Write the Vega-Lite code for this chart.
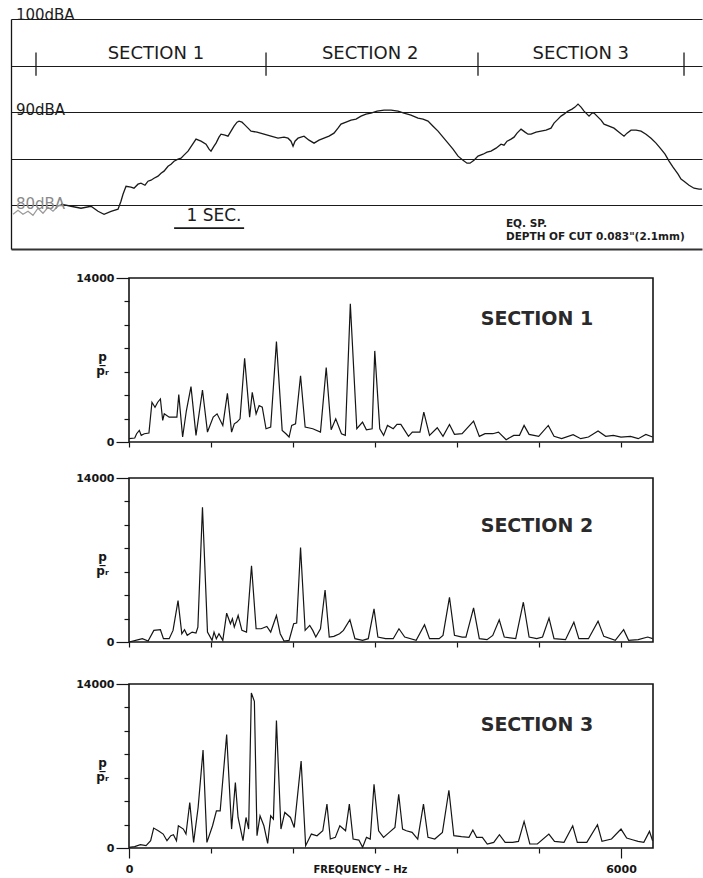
{
  "$schema": "https://vega.github.io/schema/vega-lite/v6.json",
  "background": "white",
  "padding": {"left": 10, "top": 7, "right": 0, "bottom": 2},
  "config": {
    "font": "DejaVu Sans",
    "view": {"stroke": null},
    "axis": {"labelFont": "DejaVu Sans", "titleFont": "DejaVu Sans", "labelColor": "#151515", "titleColor": "#151515", "tickColor": "#151515", "domainColor": "#151515", "grid": false}
  },
  "datasets": {
    "level": [
      {"t":0.714,"db":80.11},{"t":0.857,"db":79.89},{"t":1.0,"db":79.68},{"t":1.143,"db":79.89},{"t":1.243,"db":79.35},{"t":1.329,"db":79.03},{"t":1.429,"db":79.35},{"t":1.529,"db":79.57},{"t":1.571,"db":80.43},{"t":1.6,"db":81.18},{"t":1.643,"db":82.04},{"t":1.714,"db":81.94},{"t":1.757,"db":81.83},{"t":1.814,"db":82.26},{"t":1.857,"db":82.37},{"t":1.914,"db":82.15},{"t":1.957,"db":82.58},{"t":2.0,"db":82.69},{"t":2.043,"db":82.9},{"t":2.1,"db":83.12},{"t":2.143,"db":83.44},{"t":2.186,"db":83.66},{"t":2.243,"db":84.19},{"t":2.286,"db":84.41},{"t":2.329,"db":84.73},{"t":2.386,"db":84.95},{"t":2.429,"db":85.05},{"t":2.471,"db":85.38},{"t":2.529,"db":85.81},{"t":2.586,"db":86.45},{"t":2.643,"db":87.1},{"t":2.714,"db":86.88},{"t":2.786,"db":86.56},{"t":2.829,"db":86.02},{"t":2.857,"db":85.81},{"t":2.9,"db":86.34},{"t":2.929,"db":86.67},{"t":2.971,"db":87.31},{"t":3.0,"db":87.63},{"t":3.057,"db":87.53},{"t":3.1,"db":87.42},{"t":3.143,"db":87.96},{"t":3.186,"db":88.49},{"t":3.229,"db":88.92},{"t":3.257,"db":89.03},{"t":3.3,"db":88.92},{"t":3.329,"db":88.71},{"t":3.386,"db":88.28},{"t":3.429,"db":87.96},{"t":3.514,"db":87.85},{"t":3.614,"db":87.63},{"t":3.714,"db":87.42},{"t":3.814,"db":87.2},{"t":3.9,"db":87.31},{"t":3.957,"db":87.2},{"t":4.0,"db":86.88},{"t":4.029,"db":86.34},{"t":4.057,"db":86.88},{"t":4.1,"db":87.2},{"t":4.143,"db":87.31},{"t":4.186,"db":87.42},{"t":4.257,"db":86.99},{"t":4.329,"db":86.67},{"t":4.4,"db":86.99},{"t":4.471,"db":87.2},{"t":4.543,"db":87.42},{"t":4.614,"db":87.74},{"t":4.671,"db":88.28},{"t":4.714,"db":88.71},{"t":4.786,"db":88.92},{"t":4.857,"db":89.14},{"t":4.929,"db":89.25},{"t":5.0,"db":89.57},{"t":5.071,"db":89.78},{"t":5.143,"db":89.89},{"t":5.229,"db":90.11},{"t":5.329,"db":90.22},{"t":5.429,"db":90.22},{"t":5.529,"db":90.11},{"t":5.614,"db":89.89},{"t":5.714,"db":89.68},{"t":5.814,"db":89.35},{"t":5.886,"db":89.25},{"t":5.957,"db":89.03},{"t":6.029,"db":88.49},{"t":6.1,"db":87.96},{"t":6.171,"db":87.31},{"t":6.243,"db":86.67},{"t":6.314,"db":86.02},{"t":6.386,"db":85.27},{"t":6.457,"db":84.84},{"t":6.514,"db":84.52},{"t":6.557,"db":84.52},{"t":6.614,"db":84.84},{"t":6.671,"db":85.27},{"t":6.743,"db":85.48},{"t":6.8,"db":85.7},{"t":6.857,"db":85.81},{"t":6.929,"db":86.13},{"t":7.0,"db":86.56},{"t":7.043,"db":86.45},{"t":7.086,"db":86.88},{"t":7.143,"db":87.1},{"t":7.186,"db":87.31},{"t":7.229,"db":87.74},{"t":7.286,"db":88.17},{"t":7.343,"db":87.85},{"t":7.386,"db":87.63},{"t":7.429,"db":87.63},{"t":7.5,"db":87.85},{"t":7.571,"db":87.96},{"t":7.643,"db":88.06},{"t":7.714,"db":88.28},{"t":7.757,"db":88.82},{"t":7.814,"db":89.25},{"t":7.857,"db":89.57},{"t":7.9,"db":89.78},{"t":7.957,"db":90.11},{"t":8.014,"db":90.32},{"t":8.057,"db":90.54},{"t":8.1,"db":90.86},{"t":8.143,"db":90.54},{"t":8.186,"db":90.11},{"t":8.229,"db":89.78},{"t":8.257,"db":89.57},{"t":8.3,"db":89.89},{"t":8.329,"db":89.89},{"t":8.386,"db":89.46},{"t":8.429,"db":89.14},{"t":8.471,"db":88.71},{"t":8.543,"db":88.49},{"t":8.614,"db":88.28},{"t":8.686,"db":87.85},{"t":8.757,"db":87.42},{"t":8.8,"db":87.74},{"t":8.857,"db":88.06},{"t":8.929,"db":88.06},{"t":9.0,"db":87.96},{"t":9.071,"db":87.63},{"t":9.143,"db":87.2},{"t":9.214,"db":86.67},{"t":9.286,"db":86.02},{"t":9.343,"db":85.48},{"t":9.4,"db":84.73},{"t":9.457,"db":84.09},{"t":9.529,"db":83.33},{"t":9.571,"db":82.8},{"t":9.614,"db":82.58},{"t":9.686,"db":82.15},{"t":9.757,"db":81.83},{"t":9.829,"db":81.72},{"t":9.87,"db":81.72}
    ],
    "leadIn": [
      {"t":0.029,"db":79.03},{"t":0.1,"db":79.46},{"t":0.171,"db":79.03},{"t":0.243,"db":79.35},{"t":0.314,"db":78.92},{"t":0.386,"db":79.68},{"t":0.457,"db":79.14},{"t":0.529,"db":79.78},{"t":0.6,"db":79.35},{"t":0.671,"db":79.89},{"t":0.714,"db":80.11}
    ],
    "sectionMarks": [{"t":0.357},{"t":3.643},{"t":6.671},{"t":9.614}],
    "sectionNames": [
      {"label":"SECTION 1","t":2.07,"db":96.2},
      {"label":"SECTION 2","t":5.13,"db":96.2},
      {"label":"SECTION 3","t":8.14,"db":96.2}
    ],
    "dbLabels": [
      {"label":"100dBA","t":0.07,"db":100.45},
      {"label":"90dBA","t":0.07,"db":90.2}
    ],
    "dbLabelFaint": [{"label":"80dBA","t":0.07,"db":80.15}],
    "scaleText": [{"label":"1 SEC.","t":2.9,"db":78.8}],
    "scaleBar": [{"t":2.33,"t2":3.33,"db":77.55}],
    "notes": [
      {"label":"EQ. SP.","t":7.07,"db":78.0},
      {"label":"DEPTH OF CUT 0.083\"(2.1mm)","t":7.07,"db":76.55}
    ],
    "panelLabels": [
      {"section":1,"label":"SECTION  1","f":4975,"p":10500},
      {"section":2,"label":"SECTION  2","f":4975,"p":9900},
      {"section":3,"label":"SECTION  3","f":4975,"p":10500}
    ],
    "spectrum": [
      {"section":1,"f":0,"p":283},{"section":1,"f":70,"p":339},{"section":1,"f":93,"p":707},{"section":1,"f":126,"p":990},{"section":1,"f":149,"p":566},{"section":1,"f":187,"p":707},{"section":1,"f":243,"p":764},{"section":1,"f":280,"p":3394},{"section":1,"f":317,"p":2969},{"section":1,"f":350,"p":3394},{"section":1,"f":383,"p":3676},{"section":1,"f":411,"p":1838},{"section":1,"f":430,"p":2404},{"section":1,"f":490,"p":2121},{"section":1,"f":584,"p":2121},{"section":1,"f":607,"p":4044},{"section":1,"f":654,"p":424},{"section":1,"f":700,"p":2687},{"section":1,"f":756,"p":4723},{"section":1,"f":817,"p":566},{"section":1,"f":896,"p":4440},{"section":1,"f":957,"p":848},{"section":1,"f":1027,"p":2121},{"section":1,"f":1074,"p":2404},{"section":1,"f":1144,"p":1414},{"section":1,"f":1200,"p":4157},{"section":1,"f":1251,"p":848},{"section":1,"f":1284,"p":1555},{"section":1,"f":1317,"p":1697},{"section":1,"f":1354,"p":1980},{"section":1,"f":1410,"p":7155},{"section":1,"f":1471,"p":2121},{"section":1,"f":1503,"p":4242},{"section":1,"f":1550,"p":2404},{"section":1,"f":1587,"p":3111},{"section":1,"f":1625,"p":2969},{"section":1,"f":1671,"p":1131},{"section":1,"f":1728,"p":1273},{"section":1,"f":1798,"p":8569},{"section":1,"f":1868,"p":990},{"section":1,"f":1914,"p":707},{"section":1,"f":1952,"p":424},{"section":1,"f":1984,"p":1414},{"section":1,"f":2031,"p":1555},{"section":1,"f":2092,"p":5656},{"section":1,"f":2148,"p":1273},{"section":1,"f":2241,"p":1131},{"section":1,"f":2335,"p":848},{"section":1,"f":2405,"p":6363},{"section":1,"f":2465,"p":1046},{"section":1,"f":2521,"p":1980},{"section":1,"f":2591,"p":707},{"section":1,"f":2638,"p":566},{"section":1,"f":2699,"p":11793},{"section":1,"f":2778,"p":1131},{"section":1,"f":2848,"p":1697},{"section":1,"f":2895,"p":1046},{"section":1,"f":2965,"p":1131},{"section":1,"f":2997,"p":7777},{"section":1,"f":3058,"p":1131},{"section":1,"f":3105,"p":566},{"section":1,"f":3152,"p":1414},{"section":1,"f":3222,"p":1131},{"section":1,"f":3268,"p":1499},{"section":1,"f":3315,"p":1499},{"section":1,"f":3362,"p":990},{"section":1,"f":3408,"p":481},{"section":1,"f":3455,"p":848},{"section":1,"f":3548,"p":848},{"section":1,"f":3595,"p":2545},{"section":1,"f":3665,"p":566},{"section":1,"f":3759,"p":1216},{"section":1,"f":3829,"p":481},{"section":1,"f":3908,"p":1499},{"section":1,"f":3969,"p":650},{"section":1,"f":4062,"p":707},{"section":1,"f":4202,"p":1782},{"section":1,"f":4272,"p":481},{"section":1,"f":4342,"p":707},{"section":1,"f":4436,"p":707},{"section":1,"f":4506,"p":848},{"section":1,"f":4599,"p":198},{"section":1,"f":4692,"p":566},{"section":1,"f":4762,"p":566},{"section":1,"f":4818,"p":1414},{"section":1,"f":4879,"p":650},{"section":1,"f":4996,"p":481},{"section":1,"f":5113,"p":1414},{"section":1,"f":5183,"p":481},{"section":1,"f":5276,"p":283},{"section":1,"f":5416,"p":622},{"section":1,"f":5509,"p":283},{"section":1,"f":5603,"p":424},{"section":1,"f":5720,"p":933},{"section":1,"f":5813,"p":481},{"section":1,"f":5906,"p":566},{"section":1,"f":6000,"p":424},{"section":1,"f":6116,"p":481},{"section":1,"f":6210,"p":283},{"section":1,"f":6303,"p":650},{"section":1,"f":6385,"p":424},
      {"section":2,"f":0,"p":0},{"section":2,"f":117,"p":198},{"section":2,"f":163,"p":283},{"section":2,"f":233,"p":85},{"section":2,"f":303,"p":990},{"section":2,"f":383,"p":1046},{"section":2,"f":420,"p":283},{"section":2,"f":490,"p":283},{"section":2,"f":537,"p":990},{"section":2,"f":598,"p":3535},{"section":2,"f":644,"p":707},{"section":2,"f":677,"p":1046},{"section":2,"f":710,"p":566},{"section":2,"f":770,"p":848},{"section":2,"f":817,"p":764},{"section":2,"f":840,"p":1273},{"section":2,"f":896,"p":11510},{"section":2,"f":957,"p":848},{"section":2,"f":1013,"p":141},{"section":2,"f":1037,"p":848},{"section":2,"f":1065,"p":283},{"section":2,"f":1097,"p":707},{"section":2,"f":1144,"p":141},{"section":2,"f":1191,"p":2460},{"section":2,"f":1237,"p":1555},{"section":2,"f":1261,"p":1980},{"section":2,"f":1284,"p":1273},{"section":2,"f":1331,"p":2262},{"section":2,"f":1377,"p":990},{"section":2,"f":1433,"p":848},{"section":2,"f":1494,"p":6504},{"section":2,"f":1550,"p":1131},{"section":2,"f":1611,"p":1131},{"section":2,"f":1681,"p":1329},{"section":2,"f":1728,"p":848},{"section":2,"f":1798,"p":2262},{"section":2,"f":1844,"p":707},{"section":2,"f":1891,"p":85},{"section":2,"f":1952,"p":141},{"section":2,"f":2008,"p":1555},{"section":2,"f":2045,"p":1612},{"section":2,"f":2092,"p":8060},{"section":2,"f":2148,"p":990},{"section":2,"f":2204,"p":1414},{"section":2,"f":2241,"p":990},{"section":2,"f":2278,"p":424},{"section":2,"f":2335,"p":1131},{"section":2,"f":2391,"p":4440},{"section":2,"f":2442,"p":424},{"section":2,"f":2498,"p":481},{"section":2,"f":2568,"p":707},{"section":2,"f":2615,"p":990},{"section":2,"f":2694,"p":1895},{"section":2,"f":2755,"p":283},{"section":2,"f":2848,"p":141},{"section":2,"f":2918,"p":283},{"section":2,"f":2988,"p":2828},{"section":2,"f":3035,"p":424},{"section":2,"f":3128,"p":283},{"section":2,"f":3222,"p":283},{"section":2,"f":3292,"p":1131},{"section":2,"f":3362,"p":424},{"section":2,"f":3502,"p":141},{"section":2,"f":3604,"p":1471},{"section":2,"f":3665,"p":283},{"section":2,"f":3782,"p":283},{"section":2,"f":3829,"p":566},{"section":2,"f":3908,"p":3818},{"section":2,"f":3969,"p":566},{"section":2,"f":4062,"p":424},{"section":2,"f":4109,"p":424},{"section":2,"f":4202,"p":2913},{"section":2,"f":4272,"p":283},{"section":2,"f":4366,"p":198},{"section":2,"f":4436,"p":566},{"section":2,"f":4515,"p":1895},{"section":2,"f":4576,"p":424},{"section":2,"f":4716,"p":283},{"section":2,"f":4809,"p":3394},{"section":2,"f":4879,"p":424},{"section":2,"f":4972,"p":283},{"section":2,"f":5043,"p":424},{"section":2,"f":5122,"p":2036},{"section":2,"f":5183,"p":283},{"section":2,"f":5323,"p":198},{"section":2,"f":5425,"p":1697},{"section":2,"f":5486,"p":283},{"section":2,"f":5603,"p":283},{"section":2,"f":5720,"p":1782},{"section":2,"f":5790,"p":481},{"section":2,"f":5930,"p":141},{"section":2,"f":6032,"p":1046},{"section":2,"f":6093,"p":141},{"section":2,"f":6210,"p":198},{"section":2,"f":6326,"p":424},{"section":2,"f":6385,"p":283},
      {"section":3,"f":0,"p":57},{"section":3,"f":69,"p":113},{"section":3,"f":139,"p":283},{"section":3,"f":208,"p":198},{"section":3,"f":264,"p":623},{"section":3,"f":301,"p":1700},{"section":3,"f":357,"p":1474},{"section":3,"f":417,"p":1190},{"section":3,"f":463,"p":623},{"section":3,"f":510,"p":1049},{"section":3,"f":542,"p":1134},{"section":3,"f":579,"p":623},{"section":3,"f":602,"p":1899},{"section":3,"f":663,"p":1615},{"section":3,"f":695,"p":1190},{"section":3,"f":741,"p":3883},{"section":3,"f":788,"p":482},{"section":3,"f":843,"p":3457},{"section":3,"f":903,"p":8360},{"section":3,"f":950,"p":482},{"section":3,"f":1019,"p":1899},{"section":3,"f":1066,"p":3174},{"section":3,"f":1112,"p":3174},{"section":3,"f":1191,"p":9692},{"section":3,"f":1251,"p":1615},{"section":3,"f":1297,"p":5583},{"section":3,"f":1330,"p":2607},{"section":3,"f":1390,"p":623},{"section":3,"f":1427,"p":2607},{"section":3,"f":1459,"p":1615},{"section":3,"f":1492,"p":13235},{"section":3,"f":1529,"p":12526},{"section":3,"f":1561,"p":1049},{"section":3,"f":1598,"p":2749},{"section":3,"f":1645,"p":1899},{"section":3,"f":1691,"p":397},{"section":3,"f":1728,"p":2749},{"section":3,"f":1761,"p":2466},{"section":3,"f":1798,"p":10883},{"section":3,"f":1853,"p":1615},{"section":3,"f":1900,"p":3032},{"section":3,"f":1969,"p":2607},{"section":3,"f":2015,"p":1757},{"section":3,"f":2099,"p":7425},{"section":3,"f":2154,"p":198},{"section":3,"f":2224,"p":1190},{"section":3,"f":2293,"p":1049},{"section":3,"f":2363,"p":1474},{"section":3,"f":2414,"p":3741},{"section":3,"f":2455,"p":765},{"section":3,"f":2516,"p":907},{"section":3,"f":2571,"p":1899},{"section":3,"f":2641,"p":1474},{"section":3,"f":2687,"p":3741},{"section":3,"f":2733,"p":765},{"section":3,"f":2803,"p":680},{"section":3,"f":2849,"p":57},{"section":3,"f":2896,"p":907},{"section":3,"f":2942,"p":765},{"section":3,"f":2988,"p":5441},{"section":3,"f":3044,"p":1474},{"section":3,"f":3104,"p":907},{"section":3,"f":3174,"p":1332},{"section":3,"f":3243,"p":1757},{"section":3,"f":3289,"p":4591},{"section":3,"f":3336,"p":1615},{"section":3,"f":3382,"p":1474},{"section":3,"f":3452,"p":1332},{"section":3,"f":3521,"p":765},{"section":3,"f":3591,"p":3741},{"section":3,"f":3646,"p":907},{"section":3,"f":3729,"p":765},{"section":3,"f":3822,"p":1332},{"section":3,"f":3901,"p":4931},{"section":3,"f":3961,"p":1049},{"section":3,"f":4054,"p":964},{"section":3,"f":4146,"p":907},{"section":3,"f":4193,"p":1530},{"section":3,"f":4239,"p":907},{"section":3,"f":4309,"p":907},{"section":3,"f":4369,"p":340},{"section":3,"f":4448,"p":482},{"section":3,"f":4517,"p":1134},{"section":3,"f":4587,"p":482},{"section":3,"f":4679,"p":482},{"section":3,"f":4749,"p":567},{"section":3,"f":4818,"p":2267},{"section":3,"f":4888,"p":340},{"section":3,"f":4980,"p":340},{"section":3,"f":5120,"p":1190},{"section":3,"f":5189,"p":567},{"section":3,"f":5305,"p":482},{"section":3,"f":5411,"p":1899},{"section":3,"f":5467,"p":482},{"section":3,"f":5583,"p":482},{"section":3,"f":5713,"p":1984},{"section":3,"f":5768,"p":567},{"section":3,"f":5884,"p":765},{"section":3,"f":6000,"p":1615},{"section":3,"f":6069,"p":850},{"section":3,"f":6139,"p":708},{"section":3,"f":6208,"p":567},{"section":3,"f":6278,"p":482},{"section":3,"f":6347,"p":1417},{"section":3,"f":6385,"p":623}
    ]
  },
  "spacing": 22,
  "vconcat": [
    {
      "width": 691,
      "height": 230,
      "view": {"stroke": null},
      "layer": [
        {
          "data": {"name": "level"},
          "mark": {"type": "line", "color": "#1a1a1a", "strokeWidth": 1.3},
          "encoding": {
            "x": {"field": "t", "type": "quantitative", "title": null, "scale": {"domain": [0, 9.871], "nice": false, "zero": false},
                  "axis": {"orient": "bottom", "domain": true, "domainWidth": 2, "domainColor": "#333", "ticks": false, "labels": false, "grid": false}},
            "y": {"field": "db", "type": "quantitative", "title": null, "scale": {"domain": [75.3, 100], "nice": false, "zero": false},
                  "axis": {"orient": "left", "domain": true, "domainWidth": 1.3, "ticks": false, "labels": false, "grid": true, "values": [80, 85, 90, 95, 100], "tickCount": 10, "gridColor": "#1a1a1a", "gridWidth": 1.2, "gridOpacity": 1}}
          }
        },
        {
          "data": {"name": "leadIn"},
          "mark": {"type": "line", "color": "#9a9a9a", "strokeWidth": 1.2},
          "encoding": {
            "x": {"field": "t", "type": "quantitative", "title": null},
            "y": {"field": "db", "type": "quantitative", "title": null}
          }
        },
        {
          "data": {"name": "sectionMarks"},
          "mark": {"type": "rule", "color": "#1a1a1a", "strokeWidth": 1.3},
          "encoding": {
            "x": {"field": "t", "type": "quantitative", "title": null},
            "y": {"datum": 96.4, "type": "quantitative"},
            "y2": {"datum": 93.9}
          }
        },
        {
          "data": {"name": "sectionNames"},
          "mark": {"type": "text", "font": "DejaVu Sans", "fontSize": 18, "color": "#1c1c1c", "align": "center", "baseline": "middle"},
          "encoding": {
            "x": {"field": "t", "type": "quantitative", "title": null},
            "y": {"field": "db", "type": "quantitative", "title": null},
            "text": {"field": "label"}
          }
        },
        {
          "data": {"name": "dbLabels"},
          "mark": {"type": "text", "font": "DejaVu Sans", "fontSize": 15, "color": "#1c1c1c", "align": "left", "baseline": "middle"},
          "encoding": {
            "x": {"field": "t", "type": "quantitative", "title": null},
            "y": {"field": "db", "type": "quantitative", "title": null},
            "text": {"field": "label"}
          }
        },
        {
          "data": {"name": "dbLabelFaint"},
          "mark": {"type": "text", "font": "DejaVu Sans", "fontSize": 15, "color": "#8a8a8a", "align": "left", "baseline": "middle"},
          "encoding": {
            "x": {"field": "t", "type": "quantitative", "title": null},
            "y": {"field": "db", "type": "quantitative", "title": null},
            "text": {"field": "label"}
          }
        },
        {
          "data": {"name": "scaleText"},
          "mark": {"type": "text", "font": "DejaVu Sans", "fontSize": 17, "color": "#1c1c1c", "align": "center", "baseline": "middle"},
          "encoding": {
            "x": {"field": "t", "type": "quantitative", "title": null},
            "y": {"field": "db", "type": "quantitative", "title": null},
            "text": {"field": "label"}
          }
        },
        {
          "data": {"name": "scaleBar"},
          "mark": {"type": "rule", "color": "#1a1a1a", "strokeWidth": 1.8},
          "encoding": {
            "x": {"field": "t", "type": "quantitative", "title": null},
            "x2": {"field": "t2"},
            "y": {"field": "db", "type": "quantitative", "title": null}
          }
        },
        {
          "data": {"name": "notes"},
          "mark": {"type": "text", "font": "DejaVu Sans", "fontSize": 10.5, "fontWeight": "bold", "color": "#1c1c1c", "align": "left", "baseline": "middle"},
          "encoding": {
            "x": {"field": "t", "type": "quantitative", "title": null},
            "y": {"field": "db", "type": "quantitative", "title": null},
            "text": {"field": "label"}
          }
        }
      ]
    },
    {
      "spacing": 0,
      "hconcat": [
        {
          "width": 63,
          "height": 10,
          "data": {"values": [{"spacer": 1}]},
          "mark": {"type": "point", "opacity": 0},
          "encoding": {}
        },
        {
          "spacing": 28,
          "vconcat": [
            {
              "spacing": 22,
              "vconcat": [
                {
                  "width": 524,
                  "height": 164,
                  "view": {"stroke": "#151515", "strokeWidth": 1.6},
                  "layer": [
                    {
                      "data": {"name": "spectrum"},
                      "transform": [{"filter": "datum.section === 1"}],
                      "mark": {"type": "line", "color": "#151515", "strokeWidth": 1.2},
                      "encoding": {
                        "x": {"field": "f", "type": "quantitative", "title": null, "scale": {"domain": [0, 6390], "nice": false},
                              "axis": {"values": [0, 1000, 2000, 3000, 4000, 5000, 6000], "tickCount": 20, "labels": false, "tickSize": 5, "tickWidth": 1.2, "domain": false, "grid": false}},
                        "y": {"field": "p", "type": "quantitative", "scale": {"domain": [0, 14000], "nice": false},
                              "axis": {"values": [0, 2000, 4000, 6000, 8000, 10000, 12000, 14000], "tickCount": 20, "format": "d", "labelOverlap": false,
                                       "labelExpr": "datum.value === 0 || datum.value === 14000 ? datum.label : ''",
                                       "tickSize": {"condition": {"test": "datum.value === 0 || datum.value === 14000", "value": 13}, "value": 5},
                                       "tickWidth": 1.2, "labelPadding": 2, "labelFontSize": 11, "labelFontWeight": "bold",
                                       "domain": false, "grid": false,
                                       "title": ["p\u0332", "p\u1d63"], "titleAngle": 0, "titleX": -27, "titleY": 78, "titleAlign": "center", "titleBaseline": "middle", "titleFontSize": 12, "titleFontWeight": "bold", "titleLineHeight": 14}}
                      }
                    },
                    {
                      "data": {"name": "panelLabels"},
                      "transform": [{"filter": "datum.section === 1"}],
                      "mark": {"type": "text", "font": "DejaVu Sans", "fontSize": 19, "fontWeight": "bold", "color": "#2a2a2a", "align": "center", "baseline": "middle"},
                      "encoding": {
                        "x": {"field": "f", "type": "quantitative"},
                        "y": {"field": "p", "type": "quantitative"},
                        "text": {"field": "label"}
                      }
                    }
                  ]
                },
                {
                  "width": 524,
                  "height": 164,
                  "view": {"stroke": "#151515", "strokeWidth": 1.6},
                  "layer": [
                    {
                      "data": {"name": "spectrum"},
                      "transform": [{"filter": "datum.section === 2"}],
                      "mark": {"type": "line", "color": "#151515", "strokeWidth": 1.2},
                      "encoding": {
                        "x": {"field": "f", "type": "quantitative", "title": null, "scale": {"domain": [0, 6390], "nice": false},
                              "axis": {"values": [0, 1000, 2000, 3000, 4000, 5000, 6000], "tickCount": 20, "labels": false, "tickSize": 5, "tickWidth": 1.2, "domain": false, "grid": false}},
                        "y": {"field": "p", "type": "quantitative", "scale": {"domain": [0, 14000], "nice": false},
                              "axis": {"values": [0, 2000, 4000, 6000, 8000, 10000, 12000, 14000], "tickCount": 20, "format": "d", "labelOverlap": false,
                                       "labelExpr": "datum.value === 0 || datum.value === 14000 ? datum.label : ''",
                                       "tickSize": {"condition": {"test": "datum.value === 0 || datum.value === 14000", "value": 13}, "value": 5},
                                       "tickWidth": 1.2, "labelPadding": 2, "labelFontSize": 11, "labelFontWeight": "bold",
                                       "domain": false, "grid": false,
                                       "title": ["p\u0332", "p\u1d63"], "titleAngle": 0, "titleX": -27, "titleY": 78, "titleAlign": "center", "titleBaseline": "middle", "titleFontSize": 12, "titleFontWeight": "bold", "titleLineHeight": 14}}
                      }
                    },
                    {
                      "data": {"name": "panelLabels"},
                      "transform": [{"filter": "datum.section === 2"}],
                      "mark": {"type": "text", "font": "DejaVu Sans", "fontSize": 19, "fontWeight": "bold", "color": "#2a2a2a", "align": "center", "baseline": "middle"},
                      "encoding": {
                        "x": {"field": "f", "type": "quantitative"},
                        "y": {"field": "p", "type": "quantitative"},
                        "text": {"field": "label"}
                      }
                    }
                  ]
                }
              ]
            },
            {
              "width": 524,
              "height": 164,
              "view": {"stroke": "#151515", "strokeWidth": 1.6},
              "layer": [
                {
                  "data": {"name": "spectrum"},
                  "transform": [{"filter": "datum.section === 3"}],
                  "mark": {"type": "line", "color": "#151515", "strokeWidth": 1.2},
                  "encoding": {
                    "x": {"field": "f", "type": "quantitative", "scale": {"domain": [0, 6390], "nice": false},
                          "axis": {"values": [0, 1000, 2000, 3000, 4000, 5000, 6000], "tickCount": 20, "format": "d", "labelOverlap": false,
                                   "labelExpr": "datum.value === 0 || datum.value === 6000 ? datum.label : ''",
                                   "labelFlush": false,
                                   "tickSize": {"condition": {"test": "datum.value === 0 || datum.value === 6000", "value": 10}, "value": 5},
                                   "tickWidth": 1.2, "labelPadding": 5, "labelFontSize": 11, "labelFontWeight": "bold",
                                   "domain": false, "grid": false,
                                   "title": "FREQUENCY – Hz", "titleFontSize": 10, "titleFontWeight": "bold", "titleX": 184, "titleY": 16, "titleAlign": "left", "titleBaseline": "top"}},
                    "y": {"field": "p", "type": "quantitative", "scale": {"domain": [0, 14000], "nice": false},
                          "axis": {"values": [0, 2000, 4000, 6000, 8000, 10000, 12000, 14000], "tickCount": 20, "format": "d", "labelOverlap": false,
                                   "labelExpr": "datum.value === 0 || datum.value === 14000 ? datum.label : ''",
                                   "tickSize": {"condition": {"test": "datum.value === 0 || datum.value === 14000", "value": 13}, "value": 5},
                                   "tickWidth": 1.2, "labelPadding": 2, "labelFontSize": 11, "labelFontWeight": "bold",
                                   "domain": false, "grid": false,
                                   "title": ["p\u0332", "p\u1d63"], "titleAngle": 0, "titleX": -27, "titleY": 78, "titleAlign": "center", "titleBaseline": "middle", "titleFontSize": 12, "titleFontWeight": "bold", "titleLineHeight": 14}}
                  }
                },
                {
                  "data": {"name": "panelLabels"},
                  "transform": [{"filter": "datum.section === 3"}],
                  "mark": {"type": "text", "font": "DejaVu Sans", "fontSize": 19, "fontWeight": "bold", "color": "#2a2a2a", "align": "center", "baseline": "middle"},
                  "encoding": {
                    "x": {"field": "f", "type": "quantitative"},
                    "y": {"field": "p", "type": "quantitative"},
                    "text": {"field": "label"}
                  }
                }
              ]
            }
          ]
        }
      ]
    }
  ]
}
